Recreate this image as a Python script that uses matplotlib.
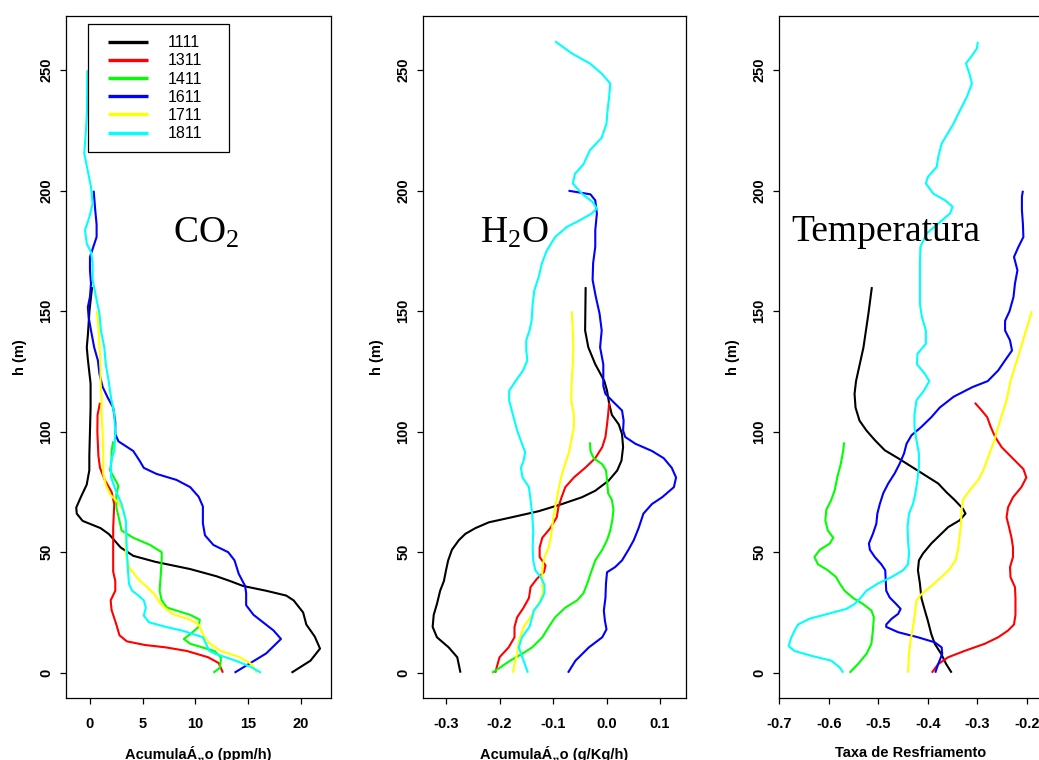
import matplotlib
matplotlib.use("Agg")
import matplotlib.pyplot as plt
from matplotlib.ticker import FormatStrFormatter
from matplotlib.legend_handler import HandlerLine2D
from matplotlib.lines import Line2D

plt.rcParams['font.family'] = ['Liberation Sans', 'DejaVu Sans']
plt.rcParams['mathtext.fontset'] = 'custom'
plt.rcParams['mathtext.rm'] = 'Liberation Serif'
plt.rcParams['mathtext.it'] = 'Liberation Serif:italic'

# ---------------------------------------------------------------- data
dates = ['1111', '1311', '1411', '1611', '1711', '1811']
colors = ['#000000', '#FF0000', '#00FF00', '#0000FF', '#FFFF00', '#00FFFF']

# CO2 accumulation (ppm/h) vs height (m)
co2_1111_h = [0, 5, 10, 15, 20, 25, 30, 32, 34, 36, 38, 40, 43, 46, 48.5, 52, 57.5, 60, 63, 66, 68.5,
              73, 78, 84, 90, 100, 110, 120, 130, 135, 140, 150, 160]
co2_1111_v = [19.1, 20.9, 21.8, 21.3, 20.5, 20.2, 19.3, 18.6, 16.7, 14.5, 13.3, 12.0, 9.5, 6.2, 4.1, 2.9,
              1.8, 1.0, -0.7, -1.25, -1.3, -0.85, -0.31, -0.06, -0.06, 0.0, 0.06, 0.06, -0.2, -0.3, -0.2,
              -0.05, 0.2]
co2_1311_h = [0, 4, 6.4, 9, 10.5, 11.5, 13, 15.5, 20, 26, 30, 34, 38, 42, 50, 60, 70, 75, 80, 85, 90, 100,
              107, 112]
co2_1311_v = [12.6, 12.2, 11.2, 9.2, 7.2, 5.2, 3.5, 2.8, 2.5, 2.05, 1.96, 2.4, 2.4, 2.2, 2.2, 2.2, 2.3,
              2.05, 1.4, 0.95, 0.8, 0.7, 0.72, 0.95]
co2_1411_h = [0, 2, 5, 6.4, 9, 12, 14, 16, 19, 22, 24, 27, 30, 34, 40, 47, 50, 53, 56, 59, 63, 68.6, 74,
              77.6, 80, 84, 88, 92, 96]
co2_1411_v = [11.7, 12.3, 12.4, 12.4, 11.8, 9.5, 8.9, 9.5, 10.3, 10.4, 9.5, 7.3, 6.8, 6.6, 6.7, 6.8, 6.8,
              5.7, 4.1, 3.0, 2.8, 2.5, 2.5, 2.7, 2.4, 1.9, 2.05, 2.05, 2.2]
co2_1611_h = [0, 8, 14, 17.5, 24, 28, 33, 36, 41, 46.6, 50, 53, 57, 62, 69, 73, 77, 80, 82.5, 85, 88, 92,
              96, 99, 104, 110, 114, 118.6, 124, 129.6, 135, 142, 147.6, 151.7, 156, 161.5, 167, 172.5,
              175, 180.8, 186, 192, 200]
co2_1611_v = [13.7, 16.7, 18.1, 17.4, 15.5, 14.8, 14.8, 14.7, 14.1, 13.7, 13.1, 11.7, 10.9, 10.7, 10.7,
              10.3, 9.5, 8.2, 6.3, 5.1, 4.7, 4.1, 2.7, 2.4, 2.4, 2.2, 1.7, 1.2, 0.9, 0.75, 0.4, 0.1, -0.13,
              -0.2, 0.0, 0.1, 0.0, 0.0, 0.19, 0.63, 0.63, 0.5, 0.35]
co2_1711_h = [0, 3.6, 6.4, 9, 12, 15, 20, 22, 24.4, 28.5, 32.6, 36, 38.2, 43.7, 49.3, 55, 63, 67, 70, 74,
              78, 82.5, 90, 100, 107, 114, 121, 128, 135, 142, 150]
co2_1711_v = [15.8, 15.3, 14.2, 12.4, 11.4, 10.8, 10.3, 9.5, 7.8, 6.7, 6.1, 5.3, 4.7, 3.7, 3.4, 3.4, 3.4,
              3.2, 2.8, 1.9, 1.5, 1.26, 1.26, 1.2, 1.1, 1.1, 1.0, 1.0, 0.9, 0.82, 0.66]
co2_1811_h = [0, 2.5, 5, 7.8, 9.1, 12, 14.7, 17.4, 19, 20.9, 23.7, 27, 30, 32, 34, 36.8, 42.4, 50, 63,
              70, 75, 81, 88, 92, 99, 107.5, 114, 121, 128, 135, 142, 149, 156, 163, 170, 174.5, 178,
              183.6, 189, 194.6, 201.5, 208.5, 215.5, 225, 233, 250]
co2_1811_v = [16.2, 15.2, 13.8, 11.9, 11.3, 11.0, 10.7, 8.8, 7.2, 5.6, 5.1, 5.3, 5.1, 4.6, 4.0, 3.7, 3.6,
              3.5, 3.4, 3.0, 2.5, 2.0, 2.0, 2.3, 2.4, 2.3, 2.0, 1.77, 1.5, 1.36, 1.04, 0.9, 0.57, 0.25,
              0.25, 0.1, -0.3, -0.47, -0.06, 0.25, 0.1, -0.22, -0.54, -0.38, -0.28, -0.25]

# H2O accumulation (g/Kg/h) vs height (m)
h2o_1111_h = [0, 6.4, 10.5, 14.7, 19, 24, 28.5, 34, 38, 42.5, 46.6, 51, 55, 57.6, 60, 62.4, 64.5, 67, 70,
              72.8, 75.5, 79.7, 83.9, 88, 93.6, 99, 103, 107, 111.6, 117, 121, 128, 135, 142, 160]
h2o_1111_v = [-0.273, -0.279, -0.295, -0.317, -0.325, -0.323, -0.317, -0.311, -0.304, -0.300, -0.296,
              -0.289, -0.276, -0.264, -0.245, -0.22, -0.177, -0.127, -0.083, -0.046, -0.021, 0.004, 0.02,
              0.028, 0.031, 0.029, 0.023, 0.010, 0.005, 0.001, -0.004, -0.021, -0.034, -0.04, -0.039]
h2o_1311_h = [0, 6.4, 10.5, 14.7, 19, 23, 27, 31, 35.5, 39, 41.7, 44.5, 48, 52, 56, 60, 64.5, 68.6, 72.8,
              77, 81, 85, 89, 93.6, 97.8, 103, 107, 112]
h2o_1311_v = [-0.208, -0.2, -0.183, -0.172, -0.172, -0.167, -0.155, -0.145, -0.142, -0.13, -0.117,
              -0.114, -0.125, -0.125, -0.12, -0.105, -0.093, -0.09, -0.084, -0.077, -0.061, -0.04,
              -0.021, -0.008, -0.002, 0.001, 0.003, 0.005]
h2o_1411_h = [0, 2, 5, 7.8, 10.5, 14.7, 19, 23, 27, 30, 33, 37, 41, 46.6, 51, 55, 59, 63.5, 67.6, 71.7,
              74.5, 80, 84, 86.5, 89, 92, 95.6]
h2o_1411_v = [-0.214, -0.2, -0.18, -0.158, -0.139, -0.12, -0.108, -0.096, -0.077, -0.055, -0.043,
              -0.036, -0.03, -0.021, -0.008, 0.001, 0.007, 0.011, 0.013, 0.01, 0.003, 0.001, -0.001,
              -0.008, -0.024, -0.03, -0.031]
h2o_1611_h = [0, 5, 10.5, 14.7, 18, 21.6, 25.8, 31, 37, 41.7, 43.8, 46.6, 51, 55, 60, 66, 70, 72.8, 77,
              81, 85, 89, 92, 95, 97.8, 100.5, 104.6, 108.8, 112.3, 115.7, 119, 128, 135, 142, 149, 156,
              163, 170, 176.7, 183.6, 190.5, 196, 198.5, 200]
h2o_1611_v = [-0.072, -0.058, -0.033, -0.008, 0.0, -0.003, -0.005, -0.002, -0.001, 0.001, 0.016, 0.029,
              0.041, 0.051, 0.06, 0.069, 0.085, 0.104, 0.126, 0.13, 0.122, 0.107, 0.085, 0.054, 0.035,
              0.031, 0.032, 0.029, 0.013, -0.002, -0.006, -0.006, -0.012, -0.009, -0.013, -0.02, -0.026,
              -0.025, -0.021, -0.021, -0.018, -0.021, -0.03, -0.071]
h2o_1711_h = [0, 3.6, 7.8, 13, 19, 24, 28.5, 33, 38, 43.8, 48, 52, 57.6, 63.5, 68.6, 74.5, 80, 85, 90.7,
              96, 102, 107, 113, 121, 128, 135, 142, 150]
h2o_1711_v = [-0.175, -0.172, -0.167, -0.164, -0.155, -0.139, -0.127, -0.119, -0.12, -0.12, -0.116,
              -0.108, -0.103, -0.1, -0.096, -0.091, -0.086, -0.08, -0.071, -0.066, -0.061, -0.061,
              -0.066, -0.065, -0.063, -0.062, -0.063, -0.065]
h2o_1811_h = [0, 5, 10.5, 14.7, 19, 23, 25.8, 29.2, 33, 36.5, 40, 42.5, 46.6, 52, 59, 66, 71.7, 77, 81,
              85, 88, 91.5, 95, 100.5, 107, 113, 117, 121, 125.4, 129.6, 133.7, 137.9, 142, 146, 153,
              158.6, 164, 169.7, 175, 180.8, 185, 187.7, 190.5, 192.6, 195.3, 198.8, 203, 207, 211,
              216.8, 222, 227.9, 233.4, 239, 244.5, 248.6, 252.8, 257, 262]
h2o_1811_v = [-0.147, -0.155, -0.164, -0.158, -0.144, -0.139, -0.136, -0.124, -0.116, -0.116, -0.124,
              -0.133, -0.137, -0.138, -0.137, -0.139, -0.142, -0.145, -0.157, -0.16, -0.155, -0.152,
              -0.158, -0.167, -0.175, -0.182, -0.182, -0.17, -0.156, -0.148, -0.15, -0.15, -0.144,
              -0.14, -0.138, -0.135, -0.127, -0.121, -0.112, -0.096, -0.074, -0.05, -0.028, -0.018,
              -0.026, -0.046, -0.063, -0.059, -0.043, -0.031, -0.009, 0.0, 0.002, 0.005, 0.007, -0.009,
              -0.031, -0.065, -0.096]

# cooling rate vs height (m)
tmp_1111_h = [0, 3.6, 7.8, 12, 16, 21.6, 25.8, 31, 37, 42.5, 46.6, 49.4, 53.6, 57.6, 60.4, 63.2, 66, 68,
              71.7, 75, 78.5, 82, 85.5, 89, 92.3, 96.5, 100.5, 104.6, 110, 115.7, 121, 135, 149, 160]
tmp_1111_v = [-0.352, -0.363, -0.373, -0.386, -0.393, -0.4, -0.406, -0.413, -0.416, -0.42, -0.418,
              -0.41, -0.393, -0.373, -0.359, -0.336, -0.324, -0.329, -0.346, -0.363, -0.379, -0.406,
              -0.433, -0.46, -0.487, -0.507, -0.524, -0.538, -0.546, -0.548, -0.545, -0.53, -0.52,
              -0.513]
tmp_1311_h = [0, 3.6, 6.4, 9.1, 12, 14.7, 17.5, 20, 24, 31, 35.5, 39.6, 43.8, 48, 52, 56, 60.4, 64.5,
              68.6, 72.8, 77, 81, 84.5, 88, 93.6, 97.8, 102, 106, 109, 112]
tmp_1311_v = [-0.392, -0.379, -0.359, -0.325, -0.285, -0.258, -0.238, -0.226, -0.223, -0.223, -0.224,
              -0.233, -0.234, -0.228, -0.228, -0.231, -0.236, -0.241, -0.238, -0.228, -0.211, -0.201,
              -0.207, -0.224, -0.251, -0.264, -0.273, -0.28, -0.292, -0.305]
tmp_1411_h = [0, 3.6, 7.8, 12, 17.5, 23, 25.8, 28.5, 31, 34, 37, 39.6, 42.5, 45, 48, 51, 53.6, 56, 59,
              63.2, 67.6, 71.7, 75.8, 81, 86.5, 92, 95.6]
tmp_1411_v = [-0.558, -0.541, -0.524, -0.514, -0.511, -0.509, -0.514, -0.531, -0.551, -0.568, -0.578,
              -0.585, -0.602, -0.622, -0.629, -0.618, -0.598, -0.591, -0.602, -0.607, -0.605, -0.595,
              -0.588, -0.583, -0.576, -0.571, -0.569]
tmp_1611_h = [0, 3.6, 7.8, 10.5, 12.6, 14.7, 16.8, 19, 20, 22.4, 24.4, 26.5, 28.5, 31.2, 34, 38, 42.5,
              45, 48, 51, 53.6, 57.6, 61.8, 66, 70, 74.5, 78.5, 82.7, 86.7, 91, 95, 98.5, 102, 106, 110,
              114.5, 118.5, 121, 125.4, 129.6, 133.7, 137.9, 142, 146, 150, 155.9, 161.5, 167, 172.5,
              176.7, 180.8, 186.3, 192, 197.5, 200]
tmp_1611_v = [-0.385, -0.379, -0.371, -0.372, -0.386, -0.42, -0.46, -0.484, -0.484, -0.473, -0.46,
              -0.455, -0.464, -0.477, -0.484, -0.485, -0.486, -0.494, -0.507, -0.517, -0.519, -0.511,
              -0.504, -0.502, -0.497, -0.49, -0.48, -0.467, -0.457, -0.448, -0.443, -0.433, -0.413,
              -0.393, -0.376, -0.348, -0.31, -0.279, -0.258, -0.244, -0.23, -0.234, -0.244, -0.244,
              -0.235, -0.227, -0.224, -0.219, -0.226, -0.217, -0.207, -0.208, -0.21, -0.21, -0.208]
tmp_1711_h = [0, 7.8, 13, 19, 24.4, 30, 32.6, 36, 39.6, 43, 46.6, 51, 56, 61.8, 67.3, 71.7, 75.8, 80, 84,
              89.5, 95, 100.5, 106, 113, 121, 135, 150]
tmp_1711_v = [-0.44, -0.438, -0.435, -0.43, -0.426, -0.423, -0.413, -0.393, -0.373, -0.356, -0.344,
              -0.339, -0.336, -0.333, -0.332, -0.329, -0.315, -0.298, -0.288, -0.278, -0.268, -0.26,
              -0.252, -0.241, -0.233, -0.212, -0.19]
tmp_1811_h = [0, 2.2, 5, 7, 9, 11, 14, 17.5, 20, 22.4, 24.4, 26.5, 28.5, 31, 34, 37, 39.6, 42.5, 45, 49.4,
              55, 60.4, 66, 70, 74.5, 80, 85.5, 91, 96.5, 102, 107, 113, 117, 121, 124, 128, 132.3,
              136.5, 142, 147.6, 153, 161.5, 169.8, 176.7, 182.3, 186.4, 190.6, 193.4, 196, 198.8, 203,
              205.7, 209.9, 214, 219.6, 223.7, 227.9, 233.4, 239, 244.5, 248.6, 252.8, 256, 259, 261.8]
tmp_1811_v = [-0.571, -0.578, -0.595, -0.635, -0.669, -0.681, -0.677, -0.669, -0.662, -0.639, -0.602,
              -0.564, -0.548, -0.536, -0.524, -0.501, -0.474, -0.45, -0.44, -0.438, -0.44, -0.441,
              -0.438, -0.43, -0.425, -0.421, -0.418, -0.418, -0.423, -0.427, -0.427, -0.423, -0.408,
              -0.397, -0.406, -0.422, -0.421, -0.404, -0.404, -0.412, -0.416, -0.416, -0.416, -0.415,
              -0.402, -0.379, -0.355, -0.35, -0.365, -0.389, -0.404, -0.4, -0.382, -0.379, -0.372,
              -0.36, -0.348, -0.335, -0.321, -0.311, -0.316, -0.323, -0.311, -0.301, -0.299]

co2_series = [(co2_1111_v, co2_1111_h), (co2_1311_v, co2_1311_h), (co2_1411_v, co2_1411_h),
              (co2_1611_v, co2_1611_h), (co2_1711_v, co2_1711_h), (co2_1811_v, co2_1811_h)]
h2o_series = [(h2o_1111_v, h2o_1111_h), (h2o_1311_v, h2o_1311_h), (h2o_1411_v, h2o_1411_h),
              (h2o_1611_v, h2o_1611_h), (h2o_1711_v, h2o_1711_h), (h2o_1811_v, h2o_1811_h)]
tmp_series = [(tmp_1111_v, tmp_1111_h), (tmp_1311_v, tmp_1311_h), (tmp_1411_v, tmp_1411_h),
              (tmp_1611_v, tmp_1611_h), (tmp_1711_v, tmp_1711_h), (tmp_1811_v, tmp_1811_h)]

co2_ticks = [0, 5, 10, 15, 20]
h2o_ticks = [-0.3, -0.2, -0.1, 0.0, 0.1]
tmp_ticks = [-0.7, -0.6, -0.5, -0.4, -0.3, -0.2]
h_ticks = [0, 50, 100, 150, 200, 250]

xlabels = ['Acumula\u00c1\u201eo (ppm/h)', 'Acumula\u00c1\u201eo (g/Kg/h)', 'Taxa de Resfriamento']
titles = [r'$\mathrm{CO}_2$', r'$\mathrm{H}_2\mathrm{O}$', 'Temperatura']

# ---------------------------------------------------------------- figure
W, H = 1039, 760
fig = plt.figure(figsize=(W / 100, H / 100), dpi=100)

bottom_px, top_px = 698, 16
panel_px = [(66, 265), (422.7, 263.3), (778.7, 264)]
xlims = [(-2.27, 22.84), (-0.3436, 0.1486), (-0.7012, -0.1680)]
ylim = (-10.5, 272.5)
title_pos = [(10.95, 178.6), (-0.173, 178.6), (-0.484, 179.1)]

tick_font = dict(family='Liberation Sans', size=10.5, weight='bold')

axes = []
for i, series in enumerate([co2_series, h2o_series, tmp_series]):
    left, width = panel_px[i]
    ax = fig.add_axes([left / W, 1 - bottom_px / H, width / W, (bottom_px - top_px) / H])
    axes.append(ax)
    for (vals, hs), c, d in zip(series, colors, dates):
        ax.plot(vals, hs, color=c, lw=1.5, label=d, solid_capstyle='butt')
    ax.set_xlim(*xlims[i])
    ax.set_ylim(*ylim)
    ax.set_xticks([co2_ticks, h2o_ticks, tmp_ticks][i])
    if i > 0:
        ax.xaxis.set_major_formatter(FormatStrFormatter('%.1f'))
    ax.set_yticks(h_ticks)
    ax.tick_params(direction='out', length=4.5, width=0.9, color='black')
    ax.tick_params(axis='x', pad=9)
    ax.tick_params(axis='y', pad=4.5)
    for lbl in ax.get_xticklabels():
        lbl.set_fontproperties(tick_font)
    for lbl in ax.get_yticklabels():
        lbl.set_fontproperties(tick_font)
        lbl.set_rotation(90)
        lbl.set_verticalalignment('center')
    for sp in ax.spines.values():
        sp.set_linewidth(0.9)
        sp.set_color('black')
    ax.set_xlabel(xlabels[i], fontsize=10.5, fontweight='bold', labelpad=11)
    ax.set_ylabel('h (m)', fontsize=10.5, fontweight='bold', labelpad=9)
    tx, ty = title_pos[i]
    ax.text(tx, ty, titles[i], ha='center', va='baseline', fontsize=27,
            family='Liberation Serif', color='black')

# legend: short thick samples set in from the frame, one row per date
leg_fs = 11.5
handler = HandlerLine2D(xpad=0.55)
leg = axes[0].legend(loc='upper left', bbox_to_anchor=(0.083, 0.988, 0.532, 0.0),
                     mode='expand', frameon=True, fancybox=False, edgecolor='black',
                     framealpha=1, fontsize=leg_fs, handlelength=3.05, handletextpad=1.25,
                     labelspacing=0.2, borderpad=0.69, borderaxespad=0,
                     handler_map={Line2D: handler})
leg.get_frame().set_linewidth(0.9)
for ln in leg.get_lines():
    ln.set_linewidth(2.4)

fig.savefig('out.png', dpi=100)
